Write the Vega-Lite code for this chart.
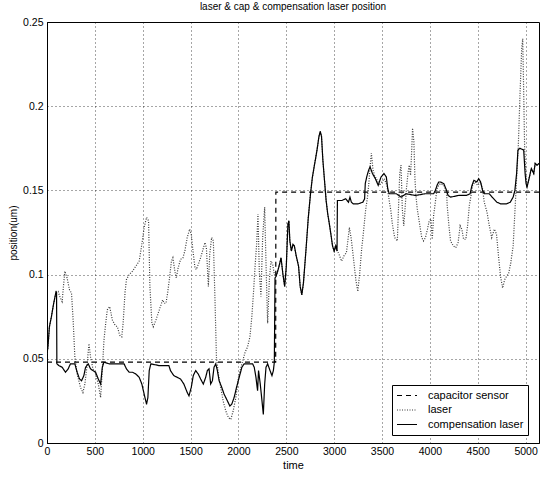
{
"$schema": "https://vega.github.io/schema/vega-lite/v6.json",
"width": 492, "height": 421,
"autosize": {"type": "none"},
"padding": {"left": 47, "top": 22, "right": 8, "bottom": 34},
"background": "white",
"title": {"text": "laser & cap & compensation laser position", "fontSize": 10, "fontWeight": "normal", "font": "Liberation Sans", "color": "black", "offset": 5},
"config": {"view": {"stroke": "black", "strokeWidth": 1}, "font": "Liberation Sans"},
"data": {"values": [
{"t":0,"v":0.048,"s":"capacitor sensor"},{"t":2389,"v":0.048,"s":"capacitor sensor"},{"t":2391,"v":0.149,"s":"capacitor sensor"},{"t":5140,"v":0.149,"s":"capacitor sensor"},
{"t":0,"v":0.053,"s":"laser"},{"t":10,"v":0.057,"s":"laser"},{"t":25,"v":0.069,"s":"laser"},{"t":46,"v":0.075,"s":"laser"},{"t":70,"v":0.083,"s":"laser"},{"t":95,"v":0.090,"s":"laser"},{"t":116,"v":0.090,"s":"laser"},{"t":140,"v":0.086,"s":"laser"},{"t":158,"v":0.084,"s":"laser"},{"t":186,"v":0.102,"s":"laser"},{"t":210,"v":0.098,"s":"laser"},{"t":235,"v":0.091,"s":"laser"},{"t":256,"v":0.089,"s":"laser"},{"t":273,"v":0.073,"s":"laser"},{"t":291,"v":0.051,"s":"laser"},{"t":315,"v":0.041,"s":"laser"},{"t":350,"v":0.033,"s":"laser"},{"t":375,"v":0.030,"s":"laser"},{"t":396,"v":0.035,"s":"laser"},{"t":420,"v":0.047,"s":"laser"},{"t":438,"v":0.059,"s":"laser"},{"t":455,"v":0.051,"s":"laser"},{"t":480,"v":0.044,"s":"laser"},{"t":508,"v":0.041,"s":"laser"},{"t":536,"v":0.035,"s":"laser"},{"t":560,"v":0.027,"s":"laser"},{"t":578,"v":0.043,"s":"laser"},{"t":595,"v":0.061,"s":"laser"},{"t":613,"v":0.071,"s":"laser"},{"t":630,"v":0.079,"s":"laser"},{"t":655,"v":0.081,"s":"laser"},{"t":683,"v":0.073,"s":"laser"},{"t":711,"v":0.070,"s":"laser"},{"t":735,"v":0.069,"s":"laser"},{"t":760,"v":0.064,"s":"laser"},{"t":781,"v":0.063,"s":"laser"},{"t":795,"v":0.071,"s":"laser"},{"t":816,"v":0.090,"s":"laser"},{"t":830,"v":0.097,"s":"laser"},{"t":858,"v":0.100,"s":"laser"},{"t":893,"v":0.102,"s":"laser"},{"t":928,"v":0.105,"s":"laser"},{"t":963,"v":0.108,"s":"laser"},{"t":991,"v":0.118,"s":"laser"},{"t":1015,"v":0.128,"s":"laser"},{"t":1040,"v":0.134,"s":"laser"},{"t":1061,"v":0.132,"s":"laser"},{"t":1075,"v":0.093,"s":"laser"},{"t":1096,"v":0.071,"s":"laser"},{"t":1110,"v":0.069,"s":"laser"},{"t":1138,"v":0.073,"s":"laser"},{"t":1173,"v":0.079,"s":"laser"},{"t":1208,"v":0.085,"s":"laser"},{"t":1225,"v":0.083,"s":"laser"},{"t":1243,"v":0.083,"s":"laser"},{"t":1260,"v":0.089,"s":"laser"},{"t":1278,"v":0.097,"s":"laser"},{"t":1300,"v":0.108,"s":"laser"},{"t":1315,"v":0.110,"s":"laser"},{"t":1336,"v":0.102,"s":"laser"},{"t":1350,"v":0.098,"s":"laser"},{"t":1370,"v":0.104,"s":"laser"},{"t":1395,"v":0.109,"s":"laser"},{"t":1420,"v":0.110,"s":"laser"},{"t":1440,"v":0.114,"s":"laser"},{"t":1465,"v":0.122,"s":"laser"},{"t":1490,"v":0.127,"s":"laser"},{"t":1507,"v":0.124,"s":"laser"},{"t":1525,"v":0.114,"s":"laser"},{"t":1546,"v":0.104,"s":"laser"},{"t":1560,"v":0.103,"s":"laser"},{"t":1580,"v":0.106,"s":"laser"},{"t":1605,"v":0.110,"s":"laser"},{"t":1630,"v":0.115,"s":"laser"},{"t":1650,"v":0.119,"s":"laser"},{"t":1665,"v":0.116,"s":"laser"},{"t":1686,"v":0.093,"s":"laser"},{"t":1700,"v":0.112,"s":"laser"},{"t":1720,"v":0.122,"s":"laser"},{"t":1738,"v":0.120,"s":"laser"},{"t":1756,"v":0.083,"s":"laser"},{"t":1770,"v":0.051,"s":"laser"},{"t":1790,"v":0.041,"s":"laser"},{"t":1815,"v":0.033,"s":"laser"},{"t":1840,"v":0.025,"s":"laser"},{"t":1868,"v":0.019,"s":"laser"},{"t":1896,"v":0.015,"s":"laser"},{"t":1920,"v":0.014,"s":"laser"},{"t":1945,"v":0.019,"s":"laser"},{"t":1973,"v":0.027,"s":"laser"},{"t":2000,"v":0.039,"s":"laser"},{"t":2036,"v":0.047,"s":"laser"},{"t":2070,"v":0.054,"s":"laser"},{"t":2095,"v":0.057,"s":"laser"},{"t":2120,"v":0.063,"s":"laser"},{"t":2140,"v":0.075,"s":"laser"},{"t":2158,"v":0.090,"s":"laser"},{"t":2175,"v":0.106,"s":"laser"},{"t":2190,"v":0.118,"s":"laser"},{"t":2204,"v":0.136,"s":"laser"},{"t":2218,"v":0.102,"s":"laser"},{"t":2235,"v":0.087,"s":"laser"},{"t":2253,"v":0.122,"s":"laser"},{"t":2274,"v":0.140,"s":"laser"},{"t":2290,"v":0.102,"s":"laser"},{"t":2305,"v":0.071,"s":"laser"},{"t":2323,"v":0.097,"s":"laser"},{"t":2340,"v":0.108,"s":"laser"},{"t":2358,"v":0.106,"s":"laser"},{"t":2375,"v":0.100,"s":"laser"},{"t":2393,"v":0.099,"s":"laser"},{"t":2420,"v":0.104,"s":"laser"},{"t":2445,"v":0.110,"s":"laser"},{"t":2465,"v":0.100,"s":"laser"},{"t":2483,"v":0.093,"s":"laser"},{"t":2500,"v":0.105,"s":"laser"},{"t":2517,"v":0.130,"s":"laser"},{"t":2527,"v":0.132,"s":"laser"},{"t":2537,"v":0.120,"s":"laser"},{"t":2553,"v":0.114,"s":"laser"},{"t":2570,"v":0.118,"s":"laser"},{"t":2584,"v":0.117,"s":"laser"},{"t":2604,"v":0.111,"s":"laser"},{"t":2628,"v":0.105,"s":"laser"},{"t":2645,"v":0.093,"s":"laser"},{"t":2662,"v":0.088,"s":"laser"},{"t":2679,"v":0.095,"s":"laser"},{"t":2706,"v":0.115,"s":"laser"},{"t":2730,"v":0.134,"s":"laser"},{"t":2753,"v":0.148,"s":"laser"},{"t":2773,"v":0.158,"s":"laser"},{"t":2797,"v":0.166,"s":"laser"},{"t":2821,"v":0.174,"s":"laser"},{"t":2841,"v":0.182,"s":"laser"},{"t":2855,"v":0.185,"s":"laser"},{"t":2868,"v":0.182,"s":"laser"},{"t":2882,"v":0.168,"s":"laser"},{"t":2899,"v":0.156,"s":"laser"},{"t":2916,"v":0.144,"s":"laser"},{"t":2933,"v":0.136,"s":"laser"},{"t":2950,"v":0.130,"s":"laser"},{"t":2966,"v":0.124,"s":"laser"},{"t":2983,"v":0.117,"s":"laser"},{"t":3000,"v":0.114,"s":"laser"},{"t":3017,"v":0.117,"s":"laser"},{"t":3034,"v":0.114,"s":"laser"},{"t":3051,"v":0.112,"s":"laser"},{"t":3078,"v":0.108,"s":"laser"},{"t":3101,"v":0.111,"s":"laser"},{"t":3128,"v":0.113,"s":"laser"},{"t":3145,"v":0.121,"s":"laser"},{"t":3159,"v":0.128,"s":"laser"},{"t":3179,"v":0.121,"s":"laser"},{"t":3203,"v":0.109,"s":"laser"},{"t":3226,"v":0.097,"s":"laser"},{"t":3247,"v":0.090,"s":"laser"},{"t":3267,"v":0.101,"s":"laser"},{"t":3287,"v":0.115,"s":"laser"},{"t":3304,"v":0.124,"s":"laser"},{"t":3328,"v":0.138,"s":"laser"},{"t":3348,"v":0.146,"s":"laser"},{"t":3362,"v":0.154,"s":"laser"},{"t":3375,"v":0.164,"s":"laser"},{"t":3389,"v":0.172,"s":"laser"},{"t":3406,"v":0.162,"s":"laser"},{"t":3422,"v":0.159,"s":"laser"},{"t":3449,"v":0.156,"s":"laser"},{"t":3473,"v":0.153,"s":"laser"},{"t":3497,"v":0.155,"s":"laser"},{"t":3524,"v":0.157,"s":"laser"},{"t":3551,"v":0.153,"s":"laser"},{"t":3575,"v":0.144,"s":"laser"},{"t":3592,"v":0.138,"s":"laser"},{"t":3608,"v":0.130,"s":"laser"},{"t":3632,"v":0.122,"s":"laser"},{"t":3660,"v":0.120,"s":"laser"},{"t":3685,"v":0.160,"s":"laser"},{"t":3698,"v":0.165,"s":"laser"},{"t":3705,"v":0.153,"s":"laser"},{"t":3712,"v":0.139,"s":"laser"},{"t":3727,"v":0.129,"s":"laser"},{"t":3738,"v":0.137,"s":"laser"},{"t":3755,"v":0.151,"s":"laser"},{"t":3773,"v":0.161,"s":"laser"},{"t":3784,"v":0.165,"s":"laser"},{"t":3798,"v":0.159,"s":"laser"},{"t":3808,"v":0.171,"s":"laser"},{"t":3819,"v":0.187,"s":"laser"},{"t":3833,"v":0.179,"s":"laser"},{"t":3844,"v":0.157,"s":"laser"},{"t":3854,"v":0.147,"s":"laser"},{"t":3868,"v":0.139,"s":"laser"},{"t":3890,"v":0.131,"s":"laser"},{"t":3915,"v":0.122,"s":"laser"},{"t":3933,"v":0.120,"s":"laser"},{"t":3954,"v":0.122,"s":"laser"},{"t":3975,"v":0.127,"s":"laser"},{"t":3993,"v":0.132,"s":"laser"},{"t":4011,"v":0.133,"s":"laser"},{"t":4025,"v":0.121,"s":"laser"},{"t":4039,"v":0.135,"s":"laser"},{"t":4057,"v":0.143,"s":"laser"},{"t":4075,"v":0.151,"s":"laser"},{"t":4092,"v":0.153,"s":"laser"},{"t":4110,"v":0.154,"s":"laser"},{"t":4146,"v":0.153,"s":"laser"},{"t":4174,"v":0.149,"s":"laser"},{"t":4181,"v":0.141,"s":"laser"},{"t":4199,"v":0.129,"s":"laser"},{"t":4216,"v":0.120,"s":"laser"},{"t":4245,"v":0.117,"s":"laser"},{"t":4270,"v":0.116,"s":"laser"},{"t":4295,"v":0.119,"s":"laser"},{"t":4316,"v":0.129,"s":"laser"},{"t":4334,"v":0.127,"s":"laser"},{"t":4352,"v":0.121,"s":"laser"},{"t":4376,"v":0.121,"s":"laser"},{"t":4394,"v":0.129,"s":"laser"},{"t":4412,"v":0.141,"s":"laser"},{"t":4430,"v":0.147,"s":"laser"},{"t":4447,"v":0.153,"s":"laser"},{"t":4472,"v":0.155,"s":"laser"},{"t":4500,"v":0.153,"s":"laser"},{"t":4529,"v":0.155,"s":"laser"},{"t":4550,"v":0.151,"s":"laser"},{"t":4568,"v":0.143,"s":"laser"},{"t":4597,"v":0.137,"s":"laser"},{"t":4621,"v":0.129,"s":"laser"},{"t":4646,"v":0.122,"s":"laser"},{"t":4674,"v":0.127,"s":"laser"},{"t":4696,"v":0.124,"s":"laser"},{"t":4717,"v":0.111,"s":"laser"},{"t":4738,"v":0.099,"s":"laser"},{"t":4760,"v":0.092,"s":"laser"},{"t":4781,"v":0.097,"s":"laser"},{"t":4802,"v":0.099,"s":"laser"},{"t":4824,"v":0.101,"s":"laser"},{"t":4845,"v":0.107,"s":"laser"},{"t":4870,"v":0.117,"s":"laser"},{"t":4888,"v":0.137,"s":"laser"},{"t":4906,"v":0.157,"s":"laser"},{"t":4923,"v":0.175,"s":"laser"},{"t":4941,"v":0.206,"s":"laser"},{"t":4959,"v":0.234,"s":"laser"},{"t":4970,"v":0.240,"s":"laser"},{"t":4978,"v":0.215,"s":"laser"},{"t":4990,"v":0.175,"s":"laser"},{"t":5005,"v":0.158,"s":"laser"},{"t":5015,"v":0.152,"s":"laser"},{"t":5036,"v":0.157,"s":"laser"},{"t":5060,"v":0.163,"s":"laser"},{"t":5085,"v":0.160,"s":"laser"},{"t":5100,"v":0.166,"s":"laser"},{"t":5120,"v":0.165,"s":"laser"},{"t":5140,"v":0.166,"s":"laser"},
{"t":0,"v":0.053,"s":"compensation laser"},{"t":10,"v":0.057,"s":"compensation laser"},{"t":25,"v":0.069,"s":"compensation laser"},{"t":46,"v":0.075,"s":"compensation laser"},{"t":70,"v":0.083,"s":"compensation laser"},{"t":95,"v":0.090,"s":"compensation laser"},{"t":100,"v":0.089,"s":"compensation laser"},{"t":103,"v":0.047,"s":"compensation laser"},{"t":123,"v":0.046,"s":"compensation laser"},{"t":158,"v":0.045,"s":"compensation laser"},{"t":193,"v":0.042,"s":"compensation laser"},{"t":221,"v":0.044,"s":"compensation laser"},{"t":245,"v":0.047,"s":"compensation laser"},{"t":291,"v":0.047,"s":"compensation laser"},{"t":315,"v":0.042,"s":"compensation laser"},{"t":340,"v":0.038,"s":"compensation laser"},{"t":361,"v":0.037,"s":"compensation laser"},{"t":385,"v":0.040,"s":"compensation laser"},{"t":403,"v":0.045,"s":"compensation laser"},{"t":431,"v":0.047,"s":"compensation laser"},{"t":455,"v":0.044,"s":"compensation laser"},{"t":480,"v":0.043,"s":"compensation laser"},{"t":508,"v":0.042,"s":"compensation laser"},{"t":536,"v":0.038,"s":"compensation laser"},{"t":560,"v":0.035,"s":"compensation laser"},{"t":578,"v":0.045,"s":"compensation laser"},{"t":595,"v":0.048,"s":"compensation laser"},{"t":650,"v":0.047,"s":"compensation laser"},{"t":805,"v":0.047,"s":"compensation laser"},{"t":830,"v":0.044,"s":"compensation laser"},{"t":858,"v":0.042,"s":"compensation laser"},{"t":893,"v":0.042,"s":"compensation laser"},{"t":928,"v":0.041,"s":"compensation laser"},{"t":963,"v":0.039,"s":"compensation laser"},{"t":991,"v":0.035,"s":"compensation laser"},{"t":1015,"v":0.029,"s":"compensation laser"},{"t":1040,"v":0.023,"s":"compensation laser"},{"t":1054,"v":0.027,"s":"compensation laser"},{"t":1068,"v":0.043,"s":"compensation laser"},{"t":1085,"v":0.047,"s":"compensation laser"},{"t":1168,"v":0.046,"s":"compensation laser"},{"t":1273,"v":0.046,"s":"compensation laser"},{"t":1290,"v":0.043,"s":"compensation laser"},{"t":1325,"v":0.040,"s":"compensation laser"},{"t":1360,"v":0.039,"s":"compensation laser"},{"t":1395,"v":0.038,"s":"compensation laser"},{"t":1430,"v":0.035,"s":"compensation laser"},{"t":1465,"v":0.030,"s":"compensation laser"},{"t":1483,"v":0.028,"s":"compensation laser"},{"t":1507,"v":0.033,"s":"compensation laser"},{"t":1528,"v":0.040,"s":"compensation laser"},{"t":1553,"v":0.043,"s":"compensation laser"},{"t":1580,"v":0.041,"s":"compensation laser"},{"t":1605,"v":0.038,"s":"compensation laser"},{"t":1633,"v":0.035,"s":"compensation laser"},{"t":1658,"v":0.039,"s":"compensation laser"},{"t":1675,"v":0.043,"s":"compensation laser"},{"t":1693,"v":0.044,"s":"compensation laser"},{"t":1710,"v":0.035,"s":"compensation laser"},{"t":1728,"v":0.037,"s":"compensation laser"},{"t":1745,"v":0.045,"s":"compensation laser"},{"t":1763,"v":0.047,"s":"compensation laser"},{"t":1780,"v":0.043,"s":"compensation laser"},{"t":1798,"v":0.037,"s":"compensation laser"},{"t":1826,"v":0.033,"s":"compensation laser"},{"t":1850,"v":0.029,"s":"compensation laser"},{"t":1885,"v":0.025,"s":"compensation laser"},{"t":1910,"v":0.022,"s":"compensation laser"},{"t":1930,"v":0.023,"s":"compensation laser"},{"t":1955,"v":0.027,"s":"compensation laser"},{"t":1980,"v":0.033,"s":"compensation laser"},{"t":2008,"v":0.039,"s":"compensation laser"},{"t":2036,"v":0.045,"s":"compensation laser"},{"t":2060,"v":0.047,"s":"compensation laser"},{"t":2148,"v":0.047,"s":"compensation laser"},{"t":2165,"v":0.045,"s":"compensation laser"},{"t":2183,"v":0.039,"s":"compensation laser"},{"t":2200,"v":0.031,"s":"compensation laser"},{"t":2210,"v":0.043,"s":"compensation laser"},{"t":2228,"v":0.035,"s":"compensation laser"},{"t":2246,"v":0.025,"s":"compensation laser"},{"t":2260,"v":0.017,"s":"compensation laser"},{"t":2274,"v":0.035,"s":"compensation laser"},{"t":2288,"v":0.045,"s":"compensation laser"},{"t":2305,"v":0.047,"s":"compensation laser"},{"t":2330,"v":0.043,"s":"compensation laser"},{"t":2350,"v":0.040,"s":"compensation laser"},{"t":2365,"v":0.043,"s":"compensation laser"},{"t":2375,"v":0.048,"s":"compensation laser"},{"t":2382,"v":0.098,"s":"compensation laser"},{"t":2393,"v":0.099,"s":"compensation laser"},{"t":2420,"v":0.104,"s":"compensation laser"},{"t":2445,"v":0.110,"s":"compensation laser"},{"t":2465,"v":0.100,"s":"compensation laser"},{"t":2483,"v":0.093,"s":"compensation laser"},{"t":2500,"v":0.105,"s":"compensation laser"},{"t":2517,"v":0.130,"s":"compensation laser"},{"t":2527,"v":0.132,"s":"compensation laser"},{"t":2537,"v":0.120,"s":"compensation laser"},{"t":2553,"v":0.114,"s":"compensation laser"},{"t":2570,"v":0.118,"s":"compensation laser"},{"t":2584,"v":0.117,"s":"compensation laser"},{"t":2604,"v":0.111,"s":"compensation laser"},{"t":2628,"v":0.105,"s":"compensation laser"},{"t":2645,"v":0.093,"s":"compensation laser"},{"t":2662,"v":0.088,"s":"compensation laser"},{"t":2679,"v":0.095,"s":"compensation laser"},{"t":2706,"v":0.115,"s":"compensation laser"},{"t":2730,"v":0.134,"s":"compensation laser"},{"t":2753,"v":0.148,"s":"compensation laser"},{"t":2773,"v":0.158,"s":"compensation laser"},{"t":2797,"v":0.166,"s":"compensation laser"},{"t":2821,"v":0.174,"s":"compensation laser"},{"t":2841,"v":0.182,"s":"compensation laser"},{"t":2855,"v":0.185,"s":"compensation laser"},{"t":2868,"v":0.182,"s":"compensation laser"},{"t":2882,"v":0.168,"s":"compensation laser"},{"t":2899,"v":0.156,"s":"compensation laser"},{"t":2916,"v":0.144,"s":"compensation laser"},{"t":2933,"v":0.136,"s":"compensation laser"},{"t":2950,"v":0.130,"s":"compensation laser"},{"t":2966,"v":0.124,"s":"compensation laser"},{"t":2983,"v":0.117,"s":"compensation laser"},{"t":3000,"v":0.114,"s":"compensation laser"},{"t":3017,"v":0.117,"s":"compensation laser"},{"t":3030,"v":0.114,"s":"compensation laser"},{"t":3034,"v":0.144,"s":"compensation laser"},{"t":3080,"v":0.144,"s":"compensation laser"},{"t":3120,"v":0.145,"s":"compensation laser"},{"t":3150,"v":0.143,"s":"compensation laser"},{"t":3165,"v":0.146,"s":"compensation laser"},{"t":3180,"v":0.143,"s":"compensation laser"},{"t":3200,"v":0.142,"s":"compensation laser"},{"t":3250,"v":0.142,"s":"compensation laser"},{"t":3300,"v":0.143,"s":"compensation laser"},{"t":3318,"v":0.145,"s":"compensation laser"},{"t":3325,"v":0.154,"s":"compensation laser"},{"t":3340,"v":0.158,"s":"compensation laser"},{"t":3360,"v":0.162,"s":"compensation laser"},{"t":3375,"v":0.164,"s":"compensation laser"},{"t":3400,"v":0.160,"s":"compensation laser"},{"t":3430,"v":0.157,"s":"compensation laser"},{"t":3460,"v":0.153,"s":"compensation laser"},{"t":3490,"v":0.158,"s":"compensation laser"},{"t":3520,"v":0.160,"s":"compensation laser"},{"t":3545,"v":0.158,"s":"compensation laser"},{"t":3560,"v":0.151,"s":"compensation laser"},{"t":3575,"v":0.148,"s":"compensation laser"},{"t":3650,"v":0.148,"s":"compensation laser"},{"t":3700,"v":0.146,"s":"compensation laser"},{"t":3750,"v":0.148,"s":"compensation laser"},{"t":3850,"v":0.147,"s":"compensation laser"},{"t":3950,"v":0.148,"s":"compensation laser"},{"t":4039,"v":0.148,"s":"compensation laser"},{"t":4057,"v":0.150,"s":"compensation laser"},{"t":4075,"v":0.153,"s":"compensation laser"},{"t":4092,"v":0.155,"s":"compensation laser"},{"t":4110,"v":0.155,"s":"compensation laser"},{"t":4146,"v":0.154,"s":"compensation laser"},{"t":4174,"v":0.150,"s":"compensation laser"},{"t":4190,"v":0.147,"s":"compensation laser"},{"t":4216,"v":0.146,"s":"compensation laser"},{"t":4300,"v":0.147,"s":"compensation laser"},{"t":4380,"v":0.147,"s":"compensation laser"},{"t":4420,"v":0.148,"s":"compensation laser"},{"t":4440,"v":0.153,"s":"compensation laser"},{"t":4460,"v":0.156,"s":"compensation laser"},{"t":4490,"v":0.155,"s":"compensation laser"},{"t":4510,"v":0.157,"s":"compensation laser"},{"t":4530,"v":0.155,"s":"compensation laser"},{"t":4550,"v":0.150,"s":"compensation laser"},{"t":4570,"v":0.148,"s":"compensation laser"},{"t":4620,"v":0.148,"s":"compensation laser"},{"t":4650,"v":0.146,"s":"compensation laser"},{"t":4700,"v":0.143,"s":"compensation laser"},{"t":4740,"v":0.142,"s":"compensation laser"},{"t":4800,"v":0.142,"s":"compensation laser"},{"t":4840,"v":0.143,"s":"compensation laser"},{"t":4870,"v":0.146,"s":"compensation laser"},{"t":4888,"v":0.150,"s":"compensation laser"},{"t":4906,"v":0.160,"s":"compensation laser"},{"t":4920,"v":0.174,"s":"compensation laser"},{"t":4940,"v":0.175,"s":"compensation laser"},{"t":4980,"v":0.174,"s":"compensation laser"},{"t":4995,"v":0.160,"s":"compensation laser"},{"t":5005,"v":0.154,"s":"compensation laser"},{"t":5015,"v":0.152,"s":"compensation laser"},{"t":5036,"v":0.157,"s":"compensation laser"},{"t":5060,"v":0.163,"s":"compensation laser"},{"t":5085,"v":0.160,"s":"compensation laser"},{"t":5100,"v":0.166,"s":"compensation laser"},{"t":5120,"v":0.165,"s":"compensation laser"},{"t":5140,"v":0.166,"s":"compensation laser"}
]},
"mark": {"type": "line", "strokeWidth": 1.2, "clip": true},
"encoding": {
  "x": {"field": "t", "type": "quantitative", "scale": {"domain": [0, 5140], "nice": false, "zero": false},
        "axis": {"title": "time", "values": [0,500,1000,1500,2000,2500,3000,3500,4000,4500,5000], "format": "d", "labelFontSize": 10.5, "labelColor": "black", "titleFontSize": 11, "titleFontWeight": "normal", "titleColor": "black", "titlePadding": 3, "labelPadding": 3, "ticks": false, "domainColor": "black", "grid": true, "gridColor": "black", "gridDash": [1, 3], "gridOpacity": 0.7, "labelFlush": false}},
  "y": {"field": "v", "type": "quantitative", "scale": {"domain": [0, 0.25], "nice": false},
        "axis": {"title": "position(um)", "values": [0,0.05,0.1,0.15,0.2,0.25], "format": "~g", "labelFontSize": 10.5, "labelColor": "black", "titleFontSize": 10, "titleFontWeight": "normal", "titleColor": "black", "titlePadding": 4, "labelPadding": 4, "ticks": false, "domainColor": "black", "grid": true, "gridColor": "black", "gridDash": [1, 3], "gridOpacity": 0.7, "labelFlush": false}},
  "color": {"field": "s", "type": "nominal", "sort": ["capacitor sensor", "laser", "compensation laser"],
            "scale": {"domain": ["capacitor sensor", "laser", "compensation laser"], "range": ["black", "#3a3a3a", "black"]},
            "legend": {"title": null, "orient": "none", "legendX": 345, "legendY": 363, "fillColor": "white", "strokeColor": "black", "padding": 4, "labelFontSize": 11, "labelColor": "black", "symbolType": "stroke", "symbolSize": 400, "symbolStrokeWidth": 1.2, "clipHeight": 13, "rowPadding": 1.5, "labelOffset": 10}},
  "strokeDash": {"field": "s", "type": "nominal", "sort": ["capacitor sensor", "laser", "compensation laser"],
            "scale": {"domain": ["capacitor sensor", "laser", "compensation laser"], "range": [[5, 4], [1, 1.5], [1, 0]]}, "legend": null}
}
}
